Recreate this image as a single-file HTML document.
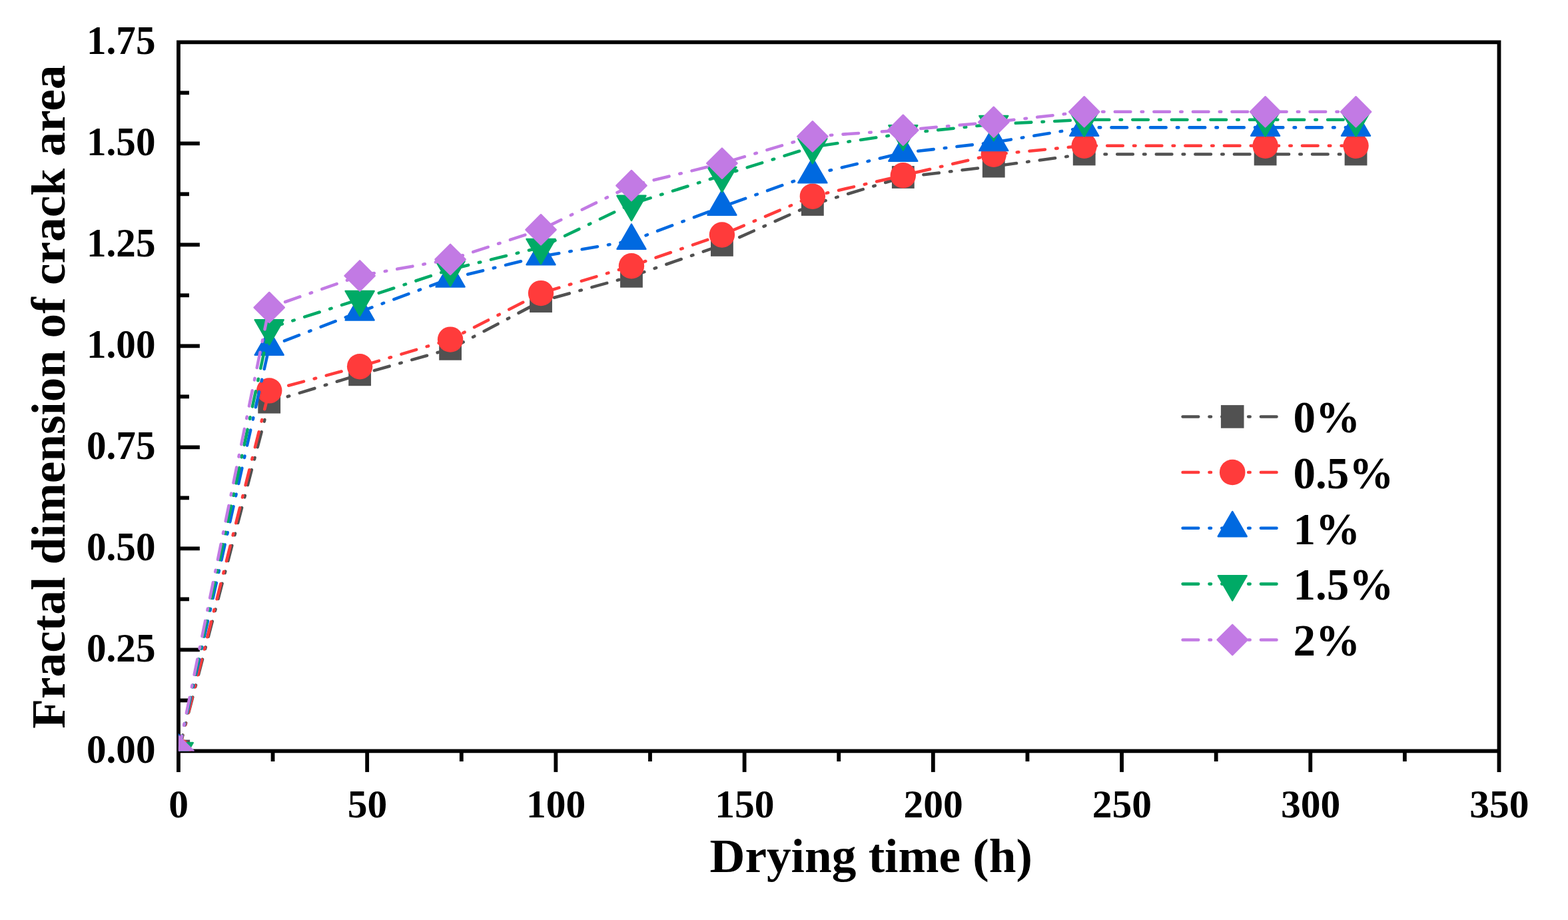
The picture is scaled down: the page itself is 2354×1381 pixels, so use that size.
<!DOCTYPE html>
<html lang="en">
<head>
<meta charset="utf-8">
<title>Fractal dimension of crack area vs drying time</title>
<style>
html,body{margin:0;padding:0;background:#fff;}
body{width:2354px;height:1381px;overflow:hidden;}
svg{display:block;}
text{font-family:"Liberation Serif",serif;font-weight:bold;fill:#000;}
.tick{font-size:60px;}
.title{font-size:73.3px;}
.leg{font-size:68px;}
.ax{stroke:#000;fill:none;}
.ln{fill:none;stroke-width:4.55;stroke-linecap:round;stroke-linejoin:round;}
</style>
</head>
<body>
<svg width="2354" height="1381" viewBox="0 0 2354 1381">
<rect x="0" y="0" width="2354" height="1381" fill="#fff"/>
<defs><clipPath id="plot"><rect x="267.95" y="63.30" width="1982.55" height="1064.10"/></clipPath></defs>

<g class="ax">
<path d="M267.95 1158.90L267.95 63.30L2250.50 63.30L2250.50 1158.90" stroke-width="5.8" stroke-linejoin="miter"/>
<path d="M267.95 1127.40L2250.50 1127.40" stroke-width="5.8"/>
<line x1="409.56" y1="1127.40" x2="409.56" y2="1143.00" stroke-width="5.8"/>
<line x1="551.17" y1="1127.40" x2="551.17" y2="1158.90" stroke-width="5.8"/>
<line x1="692.78" y1="1127.40" x2="692.78" y2="1143.00" stroke-width="5.8"/>
<line x1="834.39" y1="1127.40" x2="834.39" y2="1158.90" stroke-width="5.8"/>
<line x1="976.00" y1="1127.40" x2="976.00" y2="1143.00" stroke-width="5.8"/>
<line x1="1117.61" y1="1127.40" x2="1117.61" y2="1158.90" stroke-width="5.8"/>
<line x1="1259.22" y1="1127.40" x2="1259.22" y2="1143.00" stroke-width="5.8"/>
<line x1="1400.84" y1="1127.40" x2="1400.84" y2="1158.90" stroke-width="5.8"/>
<line x1="1542.45" y1="1127.40" x2="1542.45" y2="1143.00" stroke-width="5.8"/>
<line x1="1684.06" y1="1127.40" x2="1684.06" y2="1158.90" stroke-width="5.8"/>
<line x1="1825.67" y1="1127.40" x2="1825.67" y2="1143.00" stroke-width="5.8"/>
<line x1="1967.28" y1="1127.40" x2="1967.28" y2="1158.90" stroke-width="5.8"/>
<line x1="2108.89" y1="1127.40" x2="2108.89" y2="1143.00" stroke-width="5.8"/>
<line x1="267.95" y1="1051.39" x2="283.95" y2="1051.39" stroke-width="5.8"/>
<line x1="267.95" y1="975.39" x2="299.85" y2="975.39" stroke-width="5.8"/>
<line x1="267.95" y1="899.38" x2="283.95" y2="899.38" stroke-width="5.8"/>
<line x1="267.95" y1="823.37" x2="299.85" y2="823.37" stroke-width="5.8"/>
<line x1="267.95" y1="747.36" x2="283.95" y2="747.36" stroke-width="5.8"/>
<line x1="267.95" y1="671.36" x2="299.85" y2="671.36" stroke-width="5.8"/>
<line x1="267.95" y1="595.35" x2="283.95" y2="595.35" stroke-width="5.8"/>
<line x1="267.95" y1="519.34" x2="299.85" y2="519.34" stroke-width="5.8"/>
<line x1="267.95" y1="443.34" x2="283.95" y2="443.34" stroke-width="5.8"/>
<line x1="267.95" y1="367.33" x2="299.85" y2="367.33" stroke-width="5.8"/>
<line x1="267.95" y1="291.32" x2="283.95" y2="291.32" stroke-width="5.8"/>
<line x1="267.95" y1="215.31" x2="299.85" y2="215.31" stroke-width="5.8"/>
<line x1="267.95" y1="139.31" x2="283.95" y2="139.31" stroke-width="5.8"/>
</g>
<text class="tick" text-anchor="end" transform="translate(233.50 1145.40) scale(0.986 1.02)">0.00</text>
<text class="tick" text-anchor="end" transform="translate(233.50 993.39) scale(0.986 1.02)">0.25</text>
<text class="tick" text-anchor="end" transform="translate(233.50 841.37) scale(0.986 1.02)">0.50</text>
<text class="tick" text-anchor="end" transform="translate(233.50 689.36) scale(0.986 1.02)">0.75</text>
<text class="tick" text-anchor="end" transform="translate(233.50 537.34) scale(0.986 1.02)">1.00</text>
<text class="tick" text-anchor="end" transform="translate(233.50 385.33) scale(0.986 1.02)">1.25</text>
<text class="tick" text-anchor="end" transform="translate(233.50 233.31) scale(0.986 1.02)">1.50</text>
<text class="tick" text-anchor="end" transform="translate(233.50 81.30) scale(0.986 1.02)">1.75</text>
<text class="tick" text-anchor="middle" transform="translate(268.25 1226.90) scale(0.993 1.0)">0</text>
<text class="tick" text-anchor="middle" transform="translate(551.47 1226.90) scale(0.993 1.0)">50</text>
<text class="tick" text-anchor="middle" transform="translate(834.69 1226.90) scale(0.993 1.0)">100</text>
<text class="tick" text-anchor="middle" transform="translate(1117.91 1226.90) scale(0.993 1.0)">150</text>
<text class="tick" text-anchor="middle" transform="translate(1401.14 1226.90) scale(0.993 1.0)">200</text>
<text class="tick" text-anchor="middle" transform="translate(1684.36 1226.90) scale(0.993 1.0)">250</text>
<text class="tick" text-anchor="middle" transform="translate(1967.58 1226.90) scale(0.993 1.0)">300</text>
<text class="tick" text-anchor="middle" transform="translate(2250.80 1226.90) scale(0.993 1.0)">350</text>
<text class="title" transform="translate(1065.50 1308.90) scale(1.0 0.977)">Drying time (h)</text>
<text class="title" transform="translate(97.10 1093.70) rotate(-90) scale(1.0 0.977)">Fractal dimension of crack area</text>
<g clip-path="url(#plot)">
<path class="ln" transform="scale(1 1.004)" d="M268.25 1122.91L404.20 601.29L540.14 560.06L676.09 521.71L812.04 450.40L947.98 413.15L1083.93 366.43L1219.87 305.78L1355.82 264.94L1491.77 248.61L1627.71 230.58L1899.61 230.58L2035.55 230.58" stroke="#515151" stroke-dasharray="23.6 16.205 2.55 16.205" stroke-dashoffset="-1.05"/>
<rect x="251.35" y="1110.50" width="33.8" height="33.8" fill="#515151"/>
<rect x="387.30" y="586.80" width="33.8" height="33.8" fill="#515151"/>
<rect x="523.24" y="545.40" width="33.8" height="33.8" fill="#515151"/>
<rect x="659.19" y="506.90" width="33.8" height="33.8" fill="#515151"/>
<rect x="795.14" y="435.30" width="33.8" height="33.8" fill="#515151"/>
<rect x="931.08" y="397.90" width="33.8" height="33.8" fill="#515151"/>
<rect x="1067.03" y="351.00" width="33.8" height="33.8" fill="#515151"/>
<rect x="1202.97" y="290.10" width="33.8" height="33.8" fill="#515151"/>
<rect x="1338.92" y="249.10" width="33.8" height="33.8" fill="#515151"/>
<rect x="1474.87" y="232.70" width="33.8" height="33.8" fill="#515151"/>
<rect x="1610.81" y="214.60" width="33.8" height="33.8" fill="#515151"/>
<rect x="1882.71" y="214.60" width="33.8" height="33.8" fill="#515151"/>
<rect x="2018.65" y="214.60" width="33.8" height="33.8" fill="#515151"/>
<path class="ln" transform="scale(1 1.004)" d="M268.25 1122.91L404.20 584.06L540.14 548.01L676.09 507.57L812.04 438.35L947.98 397.71L1083.93 351.10L1219.87 293.53L1355.82 262.25L1491.77 230.88L1627.71 217.93L1899.61 217.93L2035.55 217.93" stroke="#ff3b3b" stroke-dasharray="23.6 16.205 2.55 16.205" stroke-dashoffset="-0.15"/>
<circle cx="268.25" cy="1127.40" r="19.2" fill="#ff3b3b"/>
<circle cx="404.20" cy="586.40" r="19.2" fill="#ff3b3b"/>
<circle cx="540.14" cy="550.20" r="19.2" fill="#ff3b3b"/>
<circle cx="676.09" cy="509.60" r="19.2" fill="#ff3b3b"/>
<circle cx="812.04" cy="440.10" r="19.2" fill="#ff3b3b"/>
<circle cx="947.98" cy="399.30" r="19.2" fill="#ff3b3b"/>
<circle cx="1083.93" cy="352.50" r="19.2" fill="#ff3b3b"/>
<circle cx="1219.87" cy="294.70" r="19.2" fill="#ff3b3b"/>
<circle cx="1355.82" cy="263.30" r="19.2" fill="#ff3b3b"/>
<circle cx="1491.77" cy="231.80" r="19.2" fill="#ff3b3b"/>
<circle cx="1627.71" cy="218.80" r="19.2" fill="#ff3b3b"/>
<circle cx="1899.61" cy="218.80" r="19.2" fill="#ff3b3b"/>
<circle cx="2035.55" cy="218.80" r="19.2" fill="#ff3b3b"/>
<path class="ln" transform="scale(1 1.004)" d="M268.25 1122.91L404.20 518.33L540.14 466.24L676.09 416.53L812.04 383.37L947.98 359.96L1083.93 309.16L1219.87 260.96L1355.82 228.49L1491.77 212.85L1627.71 190.64L1899.61 190.64L2035.55 190.64" stroke="#0069e0" stroke-dasharray="23.6 16.205 2.55 16.205" stroke-dashoffset="0.1"/>
<path d="M246.74 1139.82L289.76 1139.82L268.25 1102.56Z" fill="#0069e0" stroke="#0069e0" stroke-width="2.4" stroke-linejoin="round"/>
<path d="M382.68 532.82L425.71 532.82L404.20 495.56Z" fill="#0069e0" stroke="#0069e0" stroke-width="2.4" stroke-linejoin="round"/>
<path d="M518.63 480.52L561.65 480.52L540.14 443.26Z" fill="#0069e0" stroke="#0069e0" stroke-width="2.4" stroke-linejoin="round"/>
<path d="M654.58 430.62L697.60 430.62L676.09 393.36Z" fill="#0069e0" stroke="#0069e0" stroke-width="2.4" stroke-linejoin="round"/>
<path d="M790.52 397.32L833.55 397.32L812.04 360.06Z" fill="#0069e0" stroke="#0069e0" stroke-width="2.4" stroke-linejoin="round"/>
<path d="M926.47 373.82L969.49 373.82L947.98 336.56Z" fill="#0069e0" stroke="#0069e0" stroke-width="2.4" stroke-linejoin="round"/>
<path d="M1062.42 322.82L1105.44 322.82L1083.93 285.56Z" fill="#0069e0" stroke="#0069e0" stroke-width="2.4" stroke-linejoin="round"/>
<path d="M1198.36 274.42L1241.39 274.42L1219.87 237.16Z" fill="#0069e0" stroke="#0069e0" stroke-width="2.4" stroke-linejoin="round"/>
<path d="M1334.31 241.82L1377.33 241.82L1355.82 204.56Z" fill="#0069e0" stroke="#0069e0" stroke-width="2.4" stroke-linejoin="round"/>
<path d="M1470.25 226.12L1513.28 226.12L1491.77 188.86Z" fill="#0069e0" stroke="#0069e0" stroke-width="2.4" stroke-linejoin="round"/>
<path d="M1606.20 203.82L1649.22 203.82L1627.71 166.56Z" fill="#0069e0" stroke="#0069e0" stroke-width="2.4" stroke-linejoin="round"/>
<path d="M1878.09 203.82L1921.12 203.82L1899.61 166.56Z" fill="#0069e0" stroke="#0069e0" stroke-width="2.4" stroke-linejoin="round"/>
<path d="M2014.04 203.82L2057.06 203.82L2035.55 166.56Z" fill="#0069e0" stroke="#0069e0" stroke-width="2.4" stroke-linejoin="round"/>
<path class="ln" transform="scale(1 1.004)" d="M268.25 1122.91L404.20 490.54L540.14 447.51L676.09 402.89L812.04 369.82L947.98 304.98L1083.93 262.25L1219.87 219.72L1355.82 199.80L1491.77 185.66L1627.71 179.08L1899.61 179.08L2035.55 179.08" stroke="#00aa66" stroke-dasharray="23.6 16.205 2.55 16.205" stroke-dashoffset="0.3"/>
<path d="M246.74 1114.98L289.76 1114.98L268.25 1152.24Z" fill="#00aa66" stroke="#00aa66" stroke-width="2.4" stroke-linejoin="round"/>
<path d="M382.68 480.08L425.71 480.08L404.20 517.34Z" fill="#00aa66" stroke="#00aa66" stroke-width="2.4" stroke-linejoin="round"/>
<path d="M518.63 436.88L561.65 436.88L540.14 474.14Z" fill="#00aa66" stroke="#00aa66" stroke-width="2.4" stroke-linejoin="round"/>
<path d="M654.58 392.08L697.60 392.08L676.09 429.34Z" fill="#00aa66" stroke="#00aa66" stroke-width="2.4" stroke-linejoin="round"/>
<path d="M790.52 358.88L833.55 358.88L812.04 396.14Z" fill="#00aa66" stroke="#00aa66" stroke-width="2.4" stroke-linejoin="round"/>
<path d="M926.47 293.78L969.49 293.78L947.98 331.04Z" fill="#00aa66" stroke="#00aa66" stroke-width="2.4" stroke-linejoin="round"/>
<path d="M1062.42 250.88L1105.44 250.88L1083.93 288.14Z" fill="#00aa66" stroke="#00aa66" stroke-width="2.4" stroke-linejoin="round"/>
<path d="M1198.36 208.18L1241.39 208.18L1219.87 245.44Z" fill="#00aa66" stroke="#00aa66" stroke-width="2.4" stroke-linejoin="round"/>
<path d="M1334.31 188.18L1377.33 188.18L1355.82 225.44Z" fill="#00aa66" stroke="#00aa66" stroke-width="2.4" stroke-linejoin="round"/>
<path d="M1470.25 173.98L1513.28 173.98L1491.77 211.24Z" fill="#00aa66" stroke="#00aa66" stroke-width="2.4" stroke-linejoin="round"/>
<path d="M1606.20 167.38L1649.22 167.38L1627.71 204.64Z" fill="#00aa66" stroke="#00aa66" stroke-width="2.4" stroke-linejoin="round"/>
<path d="M1878.09 167.38L1921.12 167.38L1899.61 204.64Z" fill="#00aa66" stroke="#00aa66" stroke-width="2.4" stroke-linejoin="round"/>
<path d="M2014.04 167.38L2057.06 167.38L2035.55 204.64Z" fill="#00aa66" stroke="#00aa66" stroke-width="2.4" stroke-linejoin="round"/>
<path class="ln" transform="scale(1 1.004)" d="M268.25 1122.91L404.20 459.76L540.14 412.35L676.09 387.85L812.04 343.43L947.98 277.49L1083.93 244.22L1219.87 203.98L1355.82 194.52L1491.77 182.57L1627.71 167.13L1899.61 167.13L2035.55 167.13" stroke="#c27ae4" stroke-dasharray="23.6 16.205 2.55 16.205" stroke-dashoffset="0.5"/>
<path d="M245.60 1127.40L268.25 1104.75L290.90 1127.40L268.25 1150.05Z" fill="#c27ae4" stroke="#c27ae4" stroke-width="2.4" stroke-linejoin="round"/>
<path d="M381.55 461.60L404.20 438.95L426.85 461.60L404.20 484.25Z" fill="#c27ae4" stroke="#c27ae4" stroke-width="2.4" stroke-linejoin="round"/>
<path d="M517.49 414.00L540.14 391.35L562.79 414.00L540.14 436.65Z" fill="#c27ae4" stroke="#c27ae4" stroke-width="2.4" stroke-linejoin="round"/>
<path d="M653.44 389.40L676.09 366.75L698.74 389.40L676.09 412.05Z" fill="#c27ae4" stroke="#c27ae4" stroke-width="2.4" stroke-linejoin="round"/>
<path d="M789.39 344.80L812.04 322.15L834.69 344.80L812.04 367.45Z" fill="#c27ae4" stroke="#c27ae4" stroke-width="2.4" stroke-linejoin="round"/>
<path d="M925.33 278.60L947.98 255.95L970.63 278.60L947.98 301.25Z" fill="#c27ae4" stroke="#c27ae4" stroke-width="2.4" stroke-linejoin="round"/>
<path d="M1061.28 245.20L1083.93 222.55L1106.58 245.20L1083.93 267.85Z" fill="#c27ae4" stroke="#c27ae4" stroke-width="2.4" stroke-linejoin="round"/>
<path d="M1197.22 204.80L1219.87 182.15L1242.52 204.80L1219.87 227.45Z" fill="#c27ae4" stroke="#c27ae4" stroke-width="2.4" stroke-linejoin="round"/>
<path d="M1333.17 195.30L1355.82 172.65L1378.47 195.30L1355.82 217.95Z" fill="#c27ae4" stroke="#c27ae4" stroke-width="2.4" stroke-linejoin="round"/>
<path d="M1469.12 183.30L1491.77 160.65L1514.42 183.30L1491.77 205.95Z" fill="#c27ae4" stroke="#c27ae4" stroke-width="2.4" stroke-linejoin="round"/>
<path d="M1605.06 167.80L1627.71 145.15L1650.36 167.80L1627.71 190.45Z" fill="#c27ae4" stroke="#c27ae4" stroke-width="2.4" stroke-linejoin="round"/>
<path d="M1876.96 167.80L1899.61 145.15L1922.26 167.80L1899.61 190.45Z" fill="#c27ae4" stroke="#c27ae4" stroke-width="2.4" stroke-linejoin="round"/>
<path d="M2012.90 167.80L2035.55 145.15L2058.20 167.80L2035.55 190.45Z" fill="#c27ae4" stroke="#c27ae4" stroke-width="2.4" stroke-linejoin="round"/>
</g>
<path class="ln" d="M1775.6 625.4L1925.0 625.4" stroke="#515151" stroke-dasharray="23.6 16.255 2.55 16.255"/>
<rect x="1832.90" y="608.10" width="34.6" height="34.6" fill="#515151"/>
<text class="leg" transform="translate(1941.50 649.20) scale(0.986 1.005)">0%</text>
<path class="ln" d="M1775.6 709.0L1925.0 709.0" stroke="#ff3b3b" stroke-dasharray="23.6 16.255 2.55 16.255"/>
<circle cx="1850.20" cy="709.00" r="19.3" fill="#ff3b3b"/>
<text class="leg" transform="translate(1941.50 732.80) scale(0.986 1.005)">0.5%</text>
<path class="ln" d="M1775.6 792.8L1925.0 792.8" stroke="#0069e0" stroke-dasharray="23.6 16.255 2.55 16.255"/>
<path d="M1828.69 805.22L1871.71 805.22L1850.20 767.96Z" fill="#0069e0" stroke="#0069e0" stroke-width="2.4" stroke-linejoin="round"/>
<text class="leg" transform="translate(1941.50 816.60) scale(0.986 1.005)">1%</text>
<path class="ln" d="M1775.6 876.6L1925.0 876.6" stroke="#00aa66" stroke-dasharray="23.6 16.255 2.55 16.255"/>
<path d="M1828.69 864.18L1871.71 864.18L1850.20 901.44Z" fill="#00aa66" stroke="#00aa66" stroke-width="2.4" stroke-linejoin="round"/>
<text class="leg" transform="translate(1941.50 900.40) scale(0.986 1.005)">1.5%</text>
<path class="ln" d="M1775.6 960.4L1925.0 960.4" stroke="#c27ae4" stroke-dasharray="23.6 16.255 2.55 16.255"/>
<path d="M1827.55 960.40L1850.20 937.75L1872.85 960.40L1850.20 983.05Z" fill="#c27ae4" stroke="#c27ae4" stroke-width="2.4" stroke-linejoin="round"/>
<text class="leg" transform="translate(1941.50 984.20) scale(0.986 1.005)">2%</text>
</svg>
</body>
</html>
